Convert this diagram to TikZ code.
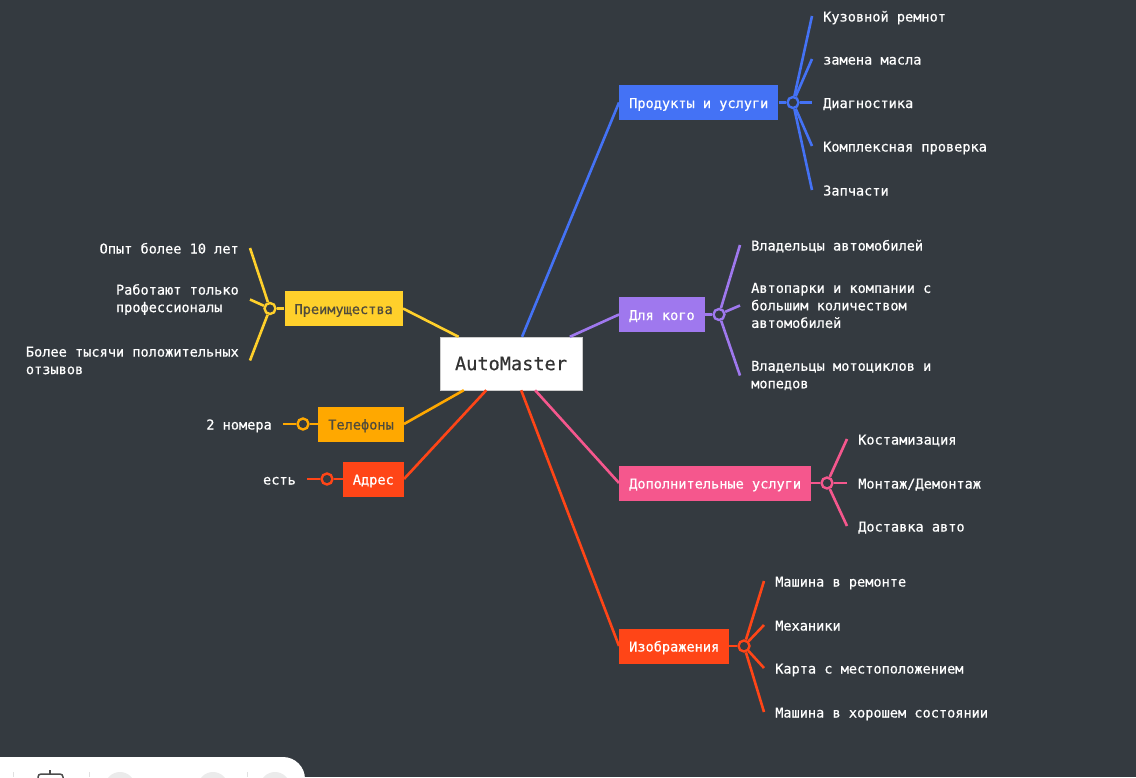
\documentclass[tikz,border=0pt]{standalone}
\usepackage{fontspec}
\usepackage{tikz}
\newfontfamily\mapfont[FakeBold=0.5]{DejaVu Sans Mono}
\definecolor{bgdark}{HTML}{343A40}
\definecolor{mmblue}{HTML}{4472F5}
\definecolor{mmpurple}{HTML}{9F78EE}
\definecolor{mmpink}{HTML}{F5578D}
\definecolor{mmred}{HTML}{FF4517}
\definecolor{mmyellow}{HTML}{FFD02B}
\definecolor{mmorange}{HTML}{FFA800}
\definecolor{boxtext}{HTML}{4F4A3C}
\newcommand{\mapsize}{\mapfont\fontsize{13.6}{17.5}\selectfont}

\begin{document}
\begin{tikzpicture}[x=1pt, y=-1pt,
    topic/.style={font=\mapsize, text=white, inner xsep=10pt, inner ysep=0pt, minimum height=35pt, oneline},
    leaf/.style={font=\mapsize, text=white, inner xsep=11pt, inner ysep=1pt, align=left},
    oneline/.style={text height=11pt, text depth=0pt},
    knot/.style={circle, draw, fill=bgdark, line width=2.4pt, minimum size=11pt, inner sep=0pt},
    branch/.style={line width=2.6pt}]
                \clip (0,0) rectangle (1136,777);
                \fill[bgdark] (0,0) rectangle (1136,777);
                \node[draw=black!20, fill=white, minimum width=142pt, minimum height=53pt, font=\mapfont\fontsize{18.6}{22}\selectfont, text=black!80] at (511,363.5) (main) {AutoMaster};

                \node[topic, fill=mmblue, anchor=west] at (619,102.5) (prod) {Продукты и услуги};
                \node[topic, fill=mmpurple, anchor=west] at (619,314.5) (whom) {Для кого};
                \node[topic, fill=mmpink, anchor=west] at (619,483) (extra) {Дополнительные услуги};
                \node[topic, fill=mmred, anchor=west] at (619,646) (pics) {Изображения};
                \node[topic, fill=mmyellow, text=boxtext, anchor=east] at (403,308.5) (pros) {Преимущества};
                \node[topic, fill=mmorange, text=boxtext, anchor=east] at (404,424) (phones) {Телефоны};
                \node[topic, fill=mmred, anchor=east] at (404,479) (addr) {Адрес};

                \draw[branch, mmblue] (main) -- (prod.west);
                \draw[branch, mmpurple] (main) -- (whom.west);
                \draw[branch, mmpink] (main) -- (extra.west);
                \draw[branch, mmred] (main) -- (pics.west);
                \draw[branch, mmyellow] (main) -- (pros.east);
                \draw[branch, mmorange] (main) -- (phones.east);
                \draw[branch, mmred] (main) -- (addr.east);

                \node[knot, draw=mmblue] at (793,102.5) (prodknot) {};
                \node[knot, draw=mmpurple] at (719,314.5) (whomknot) {};
                \node[knot, draw=mmpink] at (827,483) (extraknot) {};
                \node[knot, draw=mmred] at (744,646) (picsknot) {};
                \node[knot, draw=mmyellow] at (270,308.5) (prosknot) {};
                \node[knot, draw=mmorange] at (303,424) (phonesknot) {};
                \node[knot, draw=mmred] at (327,479) (addrknot) {};

                \draw[branch, mmblue] (prod.east) -- (prodknot);
                \draw[branch, mmpurple] (whom.east) -- (whomknot);
                \draw[branch, mmpink] (extra.east) -- (extraknot);
                \draw[branch, mmred] (pics.east) -- (picsknot);
                \draw[branch, mmyellow] (pros.west) -- (prosknot);
                \draw[branch, mmorange] (phones.west) -- (phonesknot);
                \draw[branch, mmred] (addr.west) -- (addrknot);

                \node[leaf, oneline, anchor=west] at (812,16) (body) {Кузовной ремнот};
                \node[leaf, oneline, anchor=west] at (812,59) (oil) {замена масла};
                \node[leaf, oneline, anchor=west] at (812,102.5) (diag) {Диагностика};
                \node[leaf, oneline, anchor=west] at (812,146) (check) {Комплексная проверка};
                \node[leaf, oneline, anchor=west] at (812,190) (parts) {Запчасти};
                \draw[branch, mmblue] (prodknot) -- (body.west);
                \draw[branch, mmblue] (prodknot) -- (oil.west);
                \draw[branch, mmblue] (prodknot) -- (diag.west);
                \draw[branch, mmblue] (prodknot) -- (check.west);
                \draw[branch, mmblue] (prodknot) -- (parts.west);

                \node[leaf, oneline, anchor=west] at (740,245) (owners) {Владельцы автомобилей};
                \node[leaf, anchor=west] at (740,305.5) (fleets) {Автопарки и компании с\\большим количеством\\автомобилей};
                \node[leaf, anchor=west] at (740,375.5) (bikers) {Владельцы мотоциклов и\\мопедов};
                \draw[branch, mmpurple] (whomknot) -- (owners.west);
                \draw[branch, mmpurple] (whomknot) -- (fleets.west);
                \draw[branch, mmpurple] (whomknot) -- (bikers.west);

                \node[leaf, oneline, anchor=west] at (847,439) (custom) {Костамизация};
                \node[leaf, oneline, anchor=west] at (847,483) (mount) {Монтаж/Демонтаж};
                \node[leaf, oneline, anchor=west] at (847,526) (deliver) {Доставка авто};
                \draw[branch, mmpink] (extraknot) -- (custom.west);
                \draw[branch, mmpink] (extraknot) -- (mount.west);
                \draw[branch, mmpink] (extraknot) -- (deliver.west);

                \node[leaf, oneline, anchor=west] at (764,581) (repair) {Машина в ремонте};
                \node[leaf, oneline, anchor=west] at (764,625) (mech) {Механики};
                \node[leaf, oneline, anchor=west] at (764,668) (map) {Карта с местоположением};
                \node[leaf, oneline, anchor=west] at (764,712) (good) {Машина в хорошем состоянии};
                \draw[branch, mmred] (picsknot) -- (repair.west);
                \draw[branch, mmred] (picsknot) -- (mech.west);
                \draw[branch, mmred] (picsknot) -- (map.west);
                \draw[branch, mmred] (picsknot) -- (good.west);

                \node[leaf, oneline, anchor=east] at (250,248) (exp) {Опыт более 10 лет};
                \node[leaf, anchor=east] at (250,299.5) (staff) {Работают только\\профессионалы};
                \node[leaf, anchor=east] at (250,360.5) (reviews) {Более тысячи положительных\\отзывов};
                \draw[branch, mmyellow] (prosknot) -- (exp.east);
                \draw[branch, mmyellow] (prosknot) -- (staff.east);
                \draw[branch, mmyellow] (prosknot) -- (reviews.east);

                \node[leaf, oneline, anchor=east] at (283,424) (two) {2 номера};
                \draw[branch, mmorange] (phonesknot) -- (two.east);
                \node[leaf, oneline, anchor=east] at (307,479) (yes) {есть};
                \draw[branch, mmred] (addrknot) -- (yes.east);

                \fill[white, rounded corners=22pt] (-30,757) rectangle (305,820);
                \draw[black!12, line width=1pt] (13,772) -- (13,777) (89,772) -- (89,777) (247,772) -- (247,777);
                \fill[black!8] (120,787) circle (15) (213,787) circle (15) (275,787) circle (15);
                \draw[black!70, line width=1.5pt, rounded corners=3pt] (38,790) -- (38,774) -- (63,774) -- (63,790);
                \draw[black!70, line width=1.5pt] (50,774) -- (50,770);
            \end{tikzpicture}
\end{document}
